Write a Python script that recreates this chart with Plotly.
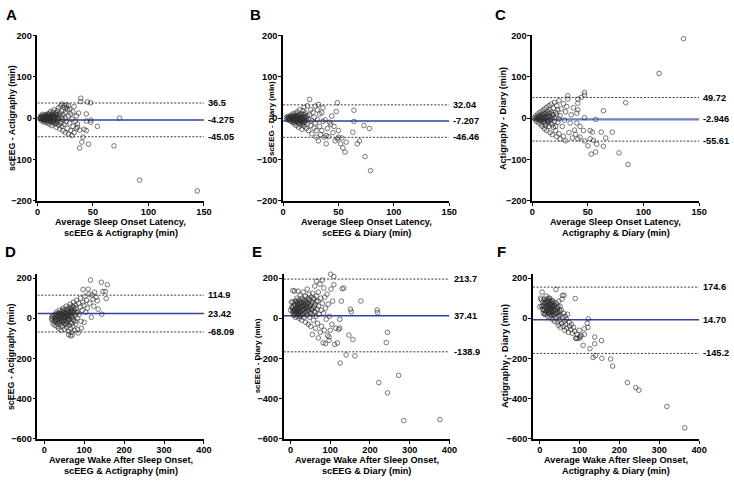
import plotly.graph_objects as go

W, H = 734, 484
FONT = 'Liberation Sans, Arial, sans-serif'

# ---- data (mean of methods, difference) ----
# A: SOL scEEG - Actigraphy
a_x = [2, 3, 3, 3, 4, 4, 4, 5, 5, 5, 6, 6, 6, 7, 7, 7, 8, 8, 8, 9, 9, 9, 10, 10, 10,
       11, 11, 11, 12, 12, 12, 13, 13, 13, 14, 14, 14, 15, 15, 15, 16, 16, 16, 17, 17, 17,
       18, 18, 18, 19, 19, 19, 20, 20, 20, 21, 21, 21, 22, 22, 22, 22, 23, 23, 23, 24, 24, 24,
       25, 25, 25, 26, 26, 26, 27, 27, 28, 28, 28, 29, 29, 30, 30, 31, 31, 32, 32, 33, 33,
       34, 35, 35, 36, 36, 37, 38, 39, 39, 38, 40, 41, 42, 44, 44, 44, 45, 46, 48, 48, 48,
       54, 69, 74, 92, 144,
       3, 4, 5, 5, 6, 6, 7, 7, 8, 8, 9, 9, 10, 10, 11, 11, 12, 12, 13, 13, 14, 14, 15, 15,
       16, 16, 17, 17, 18, 18]
a_y = [0, 2, -3, 6, -1, 5, -7, 0, -4, 9, 3, -6, -10, 1, 8, -3, -9, 4, 0, -2, 10, -12,
       6, -5, 1, -15, 12, -1, 4, -8, 16, -3, 9, -18, 2, -11, 14, -6, 20, 5, -14, 0, 10,
       -22, 7, -4, 18, -9, 3, -17, 25, -1, 12, -26, 6, -8, 30, -13, 2, -20, 17, 34, -30,
       9, -4, 26, -15, 31, -35, 14, 0, -8, 32, 25, -25, 20, -38, 5, 30, -12, 22, -30, 10,
       -42, -2, 15, -20, 28, -35, -8, 5, -25, -14, -22, 12, -29, 48, 40, -72, -58, -46,
       -27, 10, -7, -30, 39, -63, 37, -10, -5, -20, -67, 0, -150, -176,
       0, 2, -2, 3, 0, -2, 4, -5, -1, 6, 3, -6, -2, 9, 4, -9, 1, -4, 6, -1, -6, 8, 1, -10,
       5, -7, 13, -12, 0, 8]

# B: SOL scEEG - Diary
b_x = [3, 4, 4, 5, 5, 6, 6, 7, 7, 7, 8, 8, 9, 9, 9, 10, 10, 10, 11, 11, 11, 12, 12, 12,
       13, 13, 13, 14, 14, 14, 15, 15, 15, 16, 16, 17, 17, 17, 18, 18, 18, 19, 19, 19, 20,
       20, 21, 21, 22, 22, 23, 23, 24, 24, 25, 25, 26, 26, 27, 28, 28, 29, 29, 30, 30, 31,
       31, 32, 32, 33, 33, 34, 35, 35, 36, 36, 37, 38, 39, 39, 40, 41, 42, 43, 44, 45, 46,
       47, 48, 49, 49, 50, 50, 52, 53, 54, 56, 57, 63, 64, 64, 67, 69, 73, 74, 78, 79,
       5, 6, 7, 8, 9, 9, 10, 10, 11, 11, 12, 12, 13, 13, 14, 14, 15, 15, 16, 16, 17, 17,
       18, 18, 19, 19, 20, 20, 21, 22]
b_y = [1, -2, 4, 0, -5, 3, -3, 7, -1, -8, 2, -4, 10, -10, 0, 5, -6, -14, 1, 12, -3, -9,
       6, -18, 0, 15, -5, -12, 8, -22, 3, -2, 20, -8, -16, 10, -27, 0, -4, 18, -11, 5, -20,
       26, -7, 12, -25, 1, -14, 30, -3, -30, 45, 8, -18, 20, -38, -6, 14, -24, 2, 29, -12,
       -46, -30, 20, -4, 33, -55, -20, 10, -40, 13, -30, 25, -8, -46, -4, -42, -62, -25,
       -45, -10, -15, 5, -35, -20, -55, 16, 37, -50, -30, -46, -62, -48, -72, -82, -58,
       -34, -8, 19, -62, -55, -18, -93, -25, -127,
       2, -1, 3, -6, 4, -3, 0, -9, 6, -7, 2, -2, -9, 5, 0, -4, -12, 8, 2, -5, -9, 5,
       0, -15, -5, 9, -10, 2, -4, 6]

# C: SOL Actigraphy - Diary
c_x = [2, 3, 3, 4, 4, 5, 5, 6, 6, 7, 7, 7, 8, 8, 9, 9, 9, 10, 10, 11, 11, 11, 12, 12, 13,
       13, 13, 14, 14, 15, 15, 15, 16, 16, 16, 17, 17, 18, 18, 19, 19, 20, 20, 21, 21, 22,
       22, 23, 24, 24, 25, 25, 26, 27, 28, 28, 29, 30, 30, 31, 32, 32, 33, 34, 35, 36, 37,
       38, 39, 40, 40, 41, 41, 41, 43, 43, 41, 44, 47, 47, 47, 46, 47, 50, 52, 52, 53, 54,
       55, 57, 57, 58, 62, 64, 64, 66, 72, 78, 84, 86, 114, 136,
       4, 5, 6, 7, 8, 8, 9, 10, 10, 11, 11, 12, 12, 13, 13, 14, 14, 15, 15, 16, 17, 17,
       18, 18, 19, 20, 21, 22, 23, 24]
c_y = [0, -4, 5, 2, -8, 10, -2, -12, 6, 0, 14, -6, -16, 4, 18, -3, -20, 8, -10, 22, -1,
       -26, 12, -14, 26, 2, -30, -8, 16, 30, -20, 4, -35, 20, -4, 34, -12, 8, -40, 24, -22,
       38, 0, -30, 14, -45, 30, -10, 42, -38, 6, -50, 22, -20, 35, -44, -5, -55, 15, 28,
       54, 46, -35, -12, 8, -48, 25, -29, -39, 12, -12, 20, 36, 46, -20, -46, -50, 50, 62,
       56, 1, -30, -55, -67, -30, -50, -87, -34, -54, -82, -3, -63, -34, -68, 18, -48, -34,
       -84, 37, -112, 108, 192,
       -2, 3, -4, 2, -6, 8, 1, -3, 12, 5, -8, 0, -18, 9, -5, 2, -12, 12, -6, 4, -2, 14,
       -16, 2, 8, -8, -20, 10, 20, -2]

# D: WASO scEEG - Actigraphy
d_x = [18, 20, 20, 22, 22, 24, 25, 26, 26, 28, 28, 30, 30, 31, 32, 32, 33, 34, 35, 35, 36,
       37, 38, 38, 40, 40, 41, 42, 43, 44, 44, 45, 46, 47, 47, 48, 49, 50, 50, 51, 52, 52,
       53, 54, 55, 55, 56, 57, 58, 58, 59, 60, 60, 61, 62, 62, 63, 64, 65, 65, 66, 67, 68,
       68, 69, 70, 71, 72, 72, 73, 74, 75, 76, 77, 78, 79, 80, 81, 82, 83, 84, 85, 86, 88,
       90, 91, 92, 93, 95, 97, 97, 99, 100, 102, 104, 106, 108, 110, 112, 114, 116, 118,
       120, 122, 124, 126, 130, 133, 135, 143, 144, 147, 153, 155, 158, 61, 66, 70,
       36, 38, 40, 42, 44, 45, 46, 48, 50, 50, 52, 54, 55, 56, 58, 60, 60, 62, 64, 65, 66,
       68, 70, 72, 74, 76, 78, 80, 32, 28]
d_y = [0, -10, 10, -25, 5, 15, -15, -35, 0, 20, -5, -20, 8, 30, -40, -8, 12, -28, 25, 0,
       -50, -15, 40, 10, -5, -32, 22, -60, 5, 35, -18, -40, 15, 50, -8, -25, 28, -55, 0, 12,
       42, -30, 20, -12, 60, 5, -45, 30, -20, 15, 45, -65, 0, 25, -35, 55, 10, -8, 70, 35,
       -50, 18, -25, 45, -70, 5, 60, -40, 28, 80, -10, 40, -60, 15, 65, -30, 50, 90, 0, 30,
       -57, -73, 75, 20, 55, 100, -15, -49, 40, 143, 80, 65, -20, 110, 30, 90, 50, 145,
       120, 75, 190, 5, 115, 95, 60, 130, 105, 87, 45, 179, 20, 133, 133, 98, 167, -81,
       -88, -84,
       10, -20, 25, 0, -10, 20, 40, 8, -15, 30, 5, 25, -30, 15, 0, 40, -10, 20, 30, -20, 50,
       10, 35, -5, 55, 25, -15, 30, 18, -14]

# E: WASO scEEG - Diary
e_x = [0, 2, 3, 5, 6, 6, 7, 8, 8, 10, 10, 11, 12, 12, 13, 14, 15, 15, 16, 17, 17, 18, 19,
       19, 20, 21, 22, 22, 23, 24, 25, 25, 26, 27, 28, 28, 29, 30, 31, 32, 32, 33, 34, 35,
       35, 36, 37, 38, 38, 39, 40, 41, 42, 42, 43, 44, 45, 45, 46, 47, 48, 48, 49, 50, 51,
       52, 53, 54, 55, 55, 56, 57, 58, 59, 60, 61, 62, 63, 64, 65, 66, 67, 68, 69, 70, 70,
       71, 72, 74, 75, 76, 77, 78, 80, 80, 82, 83, 84, 85, 86, 88, 88, 90, 92, 93, 95, 97,
       97, 98, 100, 101, 102, 104, 106, 109, 109, 111, 114, 118, 121, 124, 124, 125, 128,
       130, 134, 140, 147, 151, 153, 157, 162, 177, 218, 219, 222, 241, 244, 244, 272,
       285, 376,
       5, 8, 10, 12, 14, 15, 16, 18, 20, 20, 22, 24, 25, 26, 28, 30, 30, 32, 34, 35, 36,
       38, 40, 42, 44, 46, 48, 50, 52, 55, 58, 60, 62, 65, 15, 18, 24, 10]
e_y = [40, 81, 55, 30, 80, 138, 40, 15, 60, 135, 25, 45, 85, 5, 35, 65, 20, 50, 100, 10,
       75, 40, 135, 60, 25, 90, 50, 0, 70, 35, 115, 15, 55, 80, 40, -10, 100, 60, 20, 130,
       75, 45, 5, 90, 60, 30, 110, -20, 70, 50, 85, 15, 145, 60, 35, 100, -30, 75, 50, 120,
       5, 90, 30, 65, -40, 105, 45, 20, -81, 80, 125, 55, -10, 95, 35, 160, 70, -50, 10,
       110, 185, 45, -25, 85, -98, 130, 60, 20, 170, -70, 100, 40, -40, 190, 75, -122, 25,
       150, -60, 105, -126, 50, -5, 120, -85, 70, -110, -93, 10, -60, 219, 145, -30, 85,
       208, 167, -130, -50, -123, -55, -5, -49, -223, 85, 147, 150, -182, -84, 45, 32,
       -106, -187, 86, 41, 28, -320, -121, -70, -371, -284, -509, -504,
       50, 35, 70, 45, 30, 85, 55, 20, 65, 40, 30, 80, 50, 25, 60, 40, 90, 20, 65, 45, 80,
       30, 55, 75, 40, 95, 60, 25, 70, 45, 100, 60, 30, 85, 30, 75, 10, 20]

# F: WASO Actigraphy - Diary
f_x = [0, 2, 4, 5, 6, 7, 8, 9, 10, 11, 12, 13, 14, 15, 16, 17, 18, 19, 20, 20, 21, 22, 23,
       24, 25, 26, 26, 27, 28, 29, 30, 30, 31, 32, 33, 34, 35, 36, 37, 38, 39, 40, 41, 42,
       43, 44, 45, 46, 47, 48, 49, 50, 51, 52, 53, 54, 55, 56, 57, 58, 59, 60, 61, 62, 63,
       64, 65, 67, 68, 70, 72, 74, 75, 78, 80, 82, 85, 88, 89, 90, 92, 94, 96, 99, 101, 101,
       104, 109, 112, 112, 119, 121, 122, 126, 134, 138, 138, 140, 155, 156, 178, 183, 220,
       241, 249, 319, 364,
       8, 10, 12, 14, 15, 16, 18, 19, 20, 21, 22, 23, 24, 25, 26, 27, 28, 29, 30, 31, 32,
       33, 34, 35, 36, 38, 40, 42, 44, 46, 48, 50, 12, 18, 25]
f_y = [58, 100, 92, 60, 130, 45, 80, 25, 65, 95, 40, 55, 20, 75, 110, 35, 50, 85, 10, 60,
       40, 100, 25, 70, 50, 5, 85, 35, 60, 15, 45, 90, 70, -5, 30, 55, 80, 20, -15, 65, 40,
       5, 143, 75, 25, -20, 50, 10, -35, 85, 30, -10, 60, -45, 15, 40, -25, 95, 113, 5, -40,
       25, 115, -15, -60, 10, -30, -5, -50, 20, -70, -20, -40, -55, -30, -75, -45, -65, 98,
       -100, -100, -80, -100, -60, -98, -90, -85, -135, -52, -80, -25, -45, -3, -151, -195,
       -93, -127, -186, -111, -199, -203, -238, -320, -345, -358, -439, -545,
       60, 40, 75, 55, 30, 85, 65, 40, 80, 50, 25, 90, 60, 35, 70, 45, 20, 75, 55, 30, 85,
       60, 40, 15, 65, 45, 25, 55, 35, 60, 15, 40, 20, 95, 100]

letters = ['A', 'B', 'C', 'D', 'E', 'F']
xs = [a_x, b_x, c_x, d_x, e_x, f_x]
ys = [a_y, b_y, c_y, d_y, e_y, f_y]
# upper limit, bias, lower limit as printed
limit_labels = [['36.5', '-4.275', '-45.05'], ['32.04', '-7.207', '-46.46'],
                ['49.72', '-2.946', '-55.61'], ['114.9', '23.42', '-68.09'],
                ['213.7', '37.41', '-138.9'], ['174.6', '14.70', '-145.2']]
# where the lines sit in the picture (E and F are drawn offset from their labels)
limit_lines = [[36.5, -4.275, -45.05], [32.04, -7.207, -46.46], [49.72, -2.946, -55.61],
               [114.9, 23.42, -68.09], [195, 13, -167], [155, -7, -175]]
y_titles = ['scEEG - Actigraphy (min)', 'scEEG - Diary (min)', 'Actigraphy - Diary (min)',
            'scEEG - Actigraphy (min)', 'scEEG - Diary (min)', 'Actigraphy - Diary (min)']
x_titles = [('Average Sleep Onset Latency,', 'scEEG & Actigraphy (min)'),
            ('Average Sleep Onset Latency,', 'scEEG & Diary (min)'),
            ('Average Sleep Onset Latency,', 'Actigraphy & Diary (min)'),
            ('Average Wake After Sleep Onset,', 'scEEG & Actigraphy (min)'),
            ('Average Wake After Sleep Onset,', 'scEEG & Diary (min)'),
            ('Average Wake After Sleep Onset,', 'Actigraphy & Diary (min)')]

# pixel geometry of each panel
x_px = [(35, 204), (284.3, 453), (537.3, 706.7), (35, 204), (285, 453.3), (538, 706.7)]
y_px = [(31, 200)] * 3 + [(274.3, 443)] * 3
ytitle_px = [9, 272, 507.5, 8, 258, 509.5]
ytitle_size = [8.8, 8.0, 9.1, 8.9, 8.0, 9.2]
letter_px = [(9, 10), (256, 10), (505, 10), (8, 252), (258, 252), (506, 252)]

fig = go.Figure()
layout = dict(width=W, height=H, margin=dict(l=0, r=0, t=0, b=0),
              paper_bgcolor='white', plot_bgcolor='white', showlegend=False,
              font=dict(family=FONT, color='black'))
annotations = []
bold = dict(family=FONT, size=9.2, color='black', weight='bold')

for i in range(6):
    n = '' if i == 0 else str(i + 1)
    xa, ya = 'x' + n, 'y' + n
    top = i < 3
    xr = [0, 150] if top else [-17, 400]
    yr = [-200, 200] if top else [-600, 222]
    ytick = [-200, -100, 0, 100, 200] if top else [-600, -400, -200, 0, 200]
    xtick = [0, 50, 100, 150] if top else [0, 100, 200, 300, 400]
    x0, x1 = x_px[i]
    y0, y1 = y_px[i]
    axis_common = dict(showgrid=False, zeroline=False, showline=True, linecolor='black',
                       linewidth=1.6, ticks='outside', ticklen=3, tickwidth=1.4,
                       tickcolor='black', tickfont=bold)
    layout['xaxis' + n] = dict(axis_common, domain=[x0 / W, x1 / W], range=xr,
                               tickvals=xtick, anchor=ya, ticklabelstandoff=-2)
    layout['yaxis' + n] = dict(axis_common, domain=[1 - y1 / H, 1 - y0 / H], range=yr,
                               tickvals=ytick, anchor=xa, ticklabelstandoff=-1)

    up, mid, lo = limit_lines[i]
    for val in (up, lo):
        fig.add_trace(go.Scatter(x=xr, y=[val, val], mode='lines', xaxis=xa, yaxis=ya,
                                 line=dict(color='#222', width=0.9, dash='2px,1.6px'),
                                 hoverinfo='skip'))
    blue = '#7080c4' if i == 2 else '#2f42a6'
    fig.add_trace(go.Scatter(x=xr, y=[mid, mid], mode='lines', xaxis=xa, yaxis=ya,
                             line=dict(color=blue, width=2.4 if i == 2 else 1.5),
                             hoverinfo='skip'))
    fig.add_trace(go.Scatter(x=xs[i], y=ys[i], mode='markers', xaxis=xa, yaxis=ya,
                             cliponaxis=False,
                             marker=dict(symbol='circle-open', size=4.6,
                                         color='rgba(45,45,45,0.85)',
                                         line=dict(width=0.75))))

    for val, txt in zip(limit_lines[i], limit_labels[i]):
        annotations.append(dict(x=xr[1], y=val, xref=xa, yref=ya, text=txt,
                                showarrow=False, xanchor='left', yanchor='middle',
                                xshift=2, font=bold))

    annotations.append(dict(x=ytitle_px[i] / W, y=1 - (y0 + y1) / 2 / H, xref='paper',
                            yref='paper', text=y_titles[i], textangle=-90,
                            showarrow=False, xanchor='center', yanchor='middle',
                            font=dict(bold, size=ytitle_size[i])))
    cx = (x0 + x1) / 2 / W
    annotations.append(dict(x=cx, y=1 - (y1 + 22) / H, xref='paper', yref='paper',
                            text=x_titles[i][0], showarrow=False, xanchor='center',
                            yanchor='middle', font=bold))
    annotations.append(dict(x=cx, y=1 - (y1 + 33) / H, xref='paper', yref='paper',
                            text=x_titles[i][1], showarrow=False, xanchor='center',
                            yanchor='middle', font=bold))
    lx, ly = letter_px[i]
    annotations.append(dict(x=lx / W, y=1 - ly / H, xref='paper', yref='paper',
                            text=letters[i], showarrow=False, xanchor='center',
                            yanchor='middle',
                            font=dict(family=FONT, size=15, color='black', weight='bold')))

layout['annotations'] = annotations
fig.update_layout(**layout)
# the page's default body margin would shift the fixed-size figure
fig.write_html('out.html', config={'displayModeBar': False},
               post_script="document.body.style.margin='0';"
                           "document.body.style.overflow='hidden';")
